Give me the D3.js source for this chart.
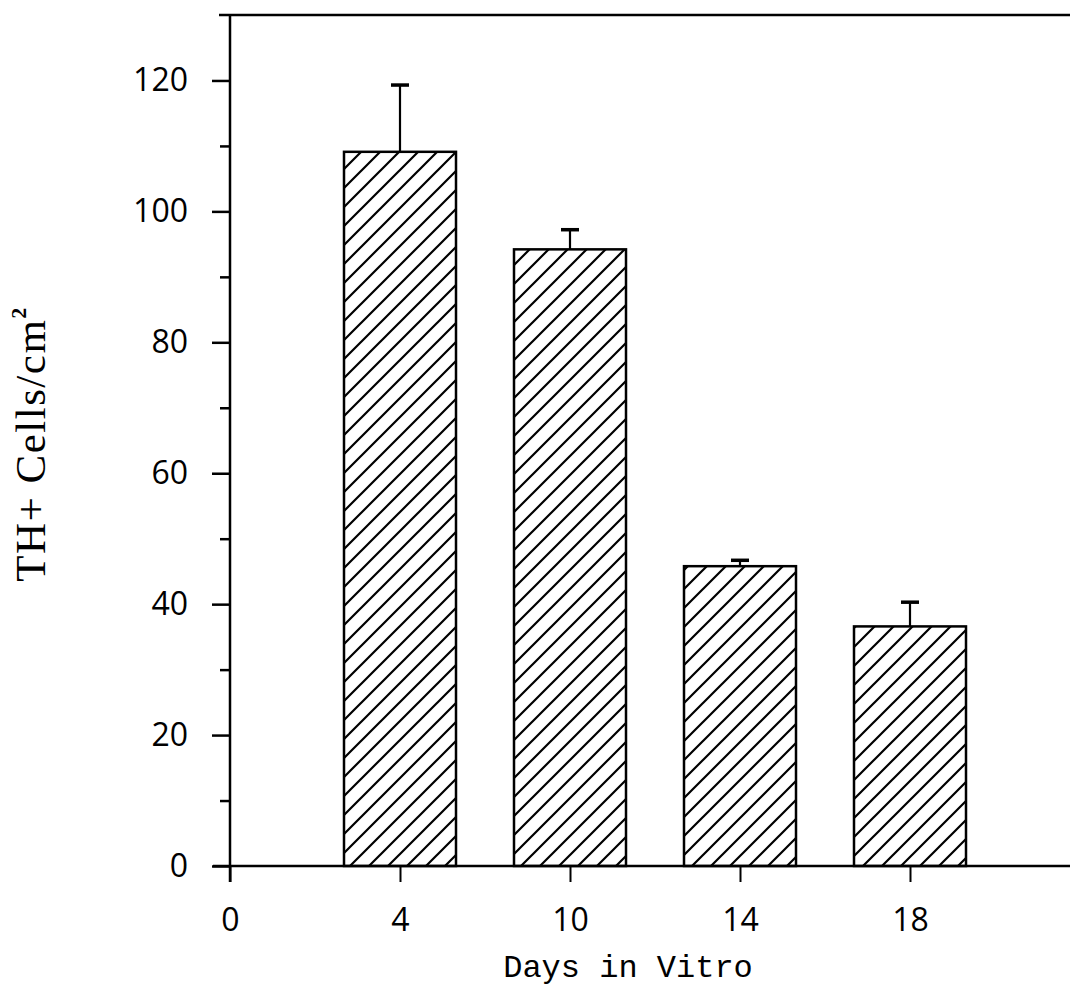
<!DOCTYPE html>
<html>
<head>
<meta charset="utf-8">
<script src="https://cdn.jsdelivr.net/npm/d3@7"></script>
<style>
    html, body { margin: 0; padding: 0; background: #fff; }
    #chart { width: 1070px; height: 996px; }
</style>
</head>
<body>
<div id="chart"></div>
<script>
    // values
    const days = ["4", "10", "14", "18"];
    const cellCounts = [109.1, 94.2, 45.8, 36.6];
    const cellErrors = [10.2, 3.0, 0.9, 3.7];
    const xTickLabels = ["0", "4", "10", "14", "18"];
    const yMajorTicks = [0, 20, 40, 60, 80, 100, 120];
    const yMinorTicks = [10, 30, 50, 70, 90, 110];

    const width = 1070;
    const height = 996;
    const margin = {
        left: 230,
        right: 0,
        top: 15,
        bottom: 130
    };
    const barWidth = 112;
    const capWidth = 18;
    const tickFont = "'Open Sans', 'Liberation Sans', sans-serif";

    const svg = d3.select("#chart").append("svg")
        .attr("width", width)
        .attr("height", height);

    const defs = svg.append("defs");
    const hatch = defs.append("pattern")
        .attr("id", "hatch")
        .attr("patternUnits", "userSpaceOnUse")
        .attr("width", 19)
        .attr("height", 19);
    hatch.append("rect")
        .attr("width", 19)
        .attr("height", 19)
        .attr("fill", "#fff");
    hatch.append("path")
        .attr("d", "M-2,2 L2,-2 M0,19 L19,0 M17,21 L21,17")
        .attr("stroke", "#000")
        .attr("stroke-width", 2.2);

    const y = d3.scaleLinear()
        .domain([0, 130])
        .range([height - margin.bottom, margin.top]);

    const x = d3.scalePoint()
        .domain(xTickLabels)
        .range([margin.left, margin.left + 680]);

    const bottom = height - margin.bottom;

    // top frame line
    svg.append("line")
        .attr("x1", margin.left - 11).attr("x2", width)
        .attr("y1", margin.top).attr("y2", margin.top)
        .attr("stroke", "#000").attr("stroke-width", 2.5);

    // bars
    const bars = svg.append("g");
    bars.selectAll("rect")
        .data(days)
        .join("rect")
        .attr("x", d => x(d) - barWidth / 2)
        .attr("y", (d, i) => y(cellCounts[i]))
        .attr("width", barWidth)
        .attr("height", (d, i) => bottom - y(cellCounts[i]))
        .attr("fill", "url(#hatch)")
        .attr("stroke", "#000")
        .attr("stroke-width", 2.5);

    // error bars (upper only)
    const err = svg.append("g")
        .attr("stroke", "#000")
        .attr("stroke-width", 2.2);
    err.selectAll("line.stem")
        .data(days)
        .join("line")
        .attr("class", "stem")
        .attr("x1", d => x(d)).attr("x2", d => x(d))
        .attr("y1", (d, i) => y(cellCounts[i]))
        .attr("y2", (d, i) => y(cellCounts[i] + cellErrors[i]));
    err.selectAll("line.cap")
        .data(days)
        .join("line")
        .attr("class", "cap")
        .attr("x1", d => x(d) - capWidth / 2).attr("x2", d => x(d) + capWidth / 2)
        .attr("y1", (d, i) => y(cellCounts[i] + cellErrors[i]))
        .attr("y2", (d, i) => y(cellCounts[i] + cellErrors[i]))
        .attr("stroke-width", 3.5);

    // y axis
    const yAxis = svg.append("g")
        .attr("transform", `translate(${margin.left},0)`)
        .call(d3.axisLeft(y).tickValues(yMajorTicks).tickSize(18).tickPadding(24));
    yAxis.select(".domain").remove();
    yAxis.selectAll(".tick line").attr("stroke-width", 2.5);
    yAxis.selectAll(".tick text")
        .attr("font-family", tickFont)
        .attr("font-size", 32)
        .attr("fill", "#000");

    const yMinor = svg.append("g")
        .attr("transform", `translate(${margin.left},0)`)
        .call(d3.axisLeft(y).tickValues(yMinorTicks).tickSize(10).tickFormat(""));
    yMinor.select(".domain").remove();
    yMinor.selectAll(".tick line").attr("stroke-width", 2.5);

    // x axis
    const xAxis = svg.append("g")
        .attr("transform", `translate(0,${bottom})`)
        .call(d3.axisBottom(x).tickSize(16).tickPadding(26));
    xAxis.select(".domain").remove();
    xAxis.selectAll(".tick line").attr("stroke-width", 2);
    xAxis.selectAll(".tick text")
        .attr("font-family", tickFont)
        .attr("font-size", 32)
        .attr("fill", "#000");

    svg.append("line")
        .attr("x1", margin.left).attr("x2", margin.left)
        .attr("y1", margin.top).attr("y2", bottom + 16)
        .attr("stroke", "#000").attr("stroke-width", 2.5);
    svg.append("line")
        .attr("x1", margin.left - 17).attr("x2", width)
        .attr("y1", bottom).attr("y2", bottom)
        .attr("stroke", "#000").attr("stroke-width", 2.5);

    // axis titles
    svg.append("text")
        .attr("x", 628)
        .attr("y", 977)
        .attr("text-anchor", "middle")
        .attr("font-family", "'Liberation Mono', 'Courier New', monospace")
        .attr("font-size", 32)
        .attr("fill", "#000")
        .text("Days in Vitro");

    const yTitle = svg.append("text")
        .attr("transform", "translate(45,444) rotate(-90)")
        .attr("text-anchor", "middle")
        .attr("font-family", "'Liberation Serif', 'Times New Roman', serif")
        .attr("font-size", 43)
        .attr("letter-spacing", 1.5)
        .attr("fill", "#000");
    yTitle.append("tspan").text("TH+ Cells/cm");
    yTitle.append("tspan")
        .attr("font-size", 22)
        .attr("font-weight", "bold")
        .attr("dy", -19)
        .text("2");
</script>
</body>
</html>
